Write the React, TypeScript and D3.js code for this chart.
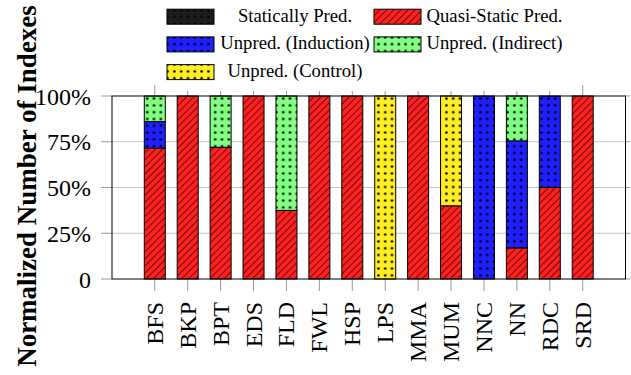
import React from "react";
import * as d3 from "d3";

const categories = ["BFS", "BKP", "BPT", "EDS", "FLD", "FWL", "HSP", "LPS", "MMA", "MUM", "NNC", "NN", "RDC", "SRD"];
const seriesNames = ["Statically Pred.", "Quasi-Static Pred.", "Unpred. (Induction)", "Unpred. (Indirect)", "Unpred. (Control)"];
const staticallyPred = [0, 0, 0, 0, 0, 0, 0, 0, 0, 0, 0, 0, 0, 0];
const quasiStatic = [71.5, 100, 72, 100, 37.5, 100, 100, 0, 100, 40, 0, 17, 50, 100];
const induction = [14.5, 0, 0, 0, 0, 0, 0, 0, 0, 0, 100, 58.5, 50, 0];
const indirect = [14, 0, 28, 0, 62.5, 0, 0, 0, 0, 0, 0, 24.5, 0, 0];
const control = [0, 0, 0, 0, 0, 0, 0, 100, 0, 60, 0, 0, 0, 0];
const yTicks = [0, 25, 50, 75, 100];
const yTickLabels = ["0", "25%", "50%", "75%", "100%"];

const fills = ["url(#pBlack)", "url(#pRed)", "url(#pBlue)", "url(#pGreen)", "url(#pYellow)"];

export default function App() {
  const W = 631, H = 375;
  const x0 = 112, x1 = 625.5, y0 = 96, y1 = 279;
  const x = d3.scaleLinear().domain([-1.3, categories.length - 1 + 1.3]).range([x0, x1]);
  const y = d3.scaleLinear().domain([0, 100]).range([y1, y0]);
  const bw = 21;

  const rows = categories.map((c, i) => ({
    cat: c,
    v0: staticallyPred[i], v1: quasiStatic[i], v2: induction[i], v3: indirect[i], v4: control[i],
  }));
  const stack = d3.stack<any>().keys(["v0", "v1", "v2", "v3", "v4"])(rows);

  const font = "'Liberation Serif', 'Times New Roman', serif";

  const legendItems = [
    { name: seriesNames[0], fill: fills[0], sx: 167, tx: 295, row: 0 },
    { name: seriesNames[1], fill: fills[1], sx: 374, tx: 494.5, row: 0 },
    { name: seriesNames[2], fill: fills[2], sx: 167, tx: 295, row: 1 },
    { name: seriesNames[3], fill: fills[3], sx: 374, tx: 494.5, row: 1 },
    { name: seriesNames[4], fill: fills[4], sx: 167, tx: 295, row: 2 },
  ];

  const P = 6.8;
  const dotPattern = (id: string, color: string) => (
    <pattern id={id} patternUnits="userSpaceOnUse" width={P} height={P} x={1} y={0}>
      <rect width={P} height={P} fill={color} />
      <circle cx={P / 2} cy={P / 2} r={1.3} fill="#000" />
    </pattern>
  );

  return (
    <svg width={W} height={H} style={{ position: "absolute", left: 0, top: 0, background: "#fff" }}>
      <defs>
        {dotPattern("pBlack", "#1c1c1c")}
        {dotPattern("pBlue", "#1f1fff")}
        {dotPattern("pGreen", "#80ff80")}
        {dotPattern("pYellow", "#ffee22")}
        <pattern id="pRed" patternUnits="userSpaceOnUse" width={5} height={5} patternTransform="rotate(45)">
          <rect width={5} height={5} fill="#ff2020" />
          <line x1={0} y1={0} x2={0} y2={5} stroke="#000" strokeWidth={1.2} />
        </pattern>
      </defs>

      {/* grid */}
      {yTicks.slice(1, -1).map((t) => (
        <line key={"g" + t} x1={x0} x2={x1} y1={y(t)} y2={y(t)} stroke="#c4c4c4" strokeWidth={1} />
      ))}
      {/* y ticks outside */}
      {yTicks.map((t) => (
        <g key={"yt" + t}>
          <line x1={101} x2={x0} y1={y(t)} y2={y(t)} stroke="#999" strokeWidth={1} />
          <line x1={x1} x2={630} y1={y(t)} y2={y(t)} stroke="#999" strokeWidth={1} />
        </g>
      ))}
      {/* x ticks */}
      {categories.map((c, i) => (
        <g key={"xt" + c}>
          <line x1={x(i)} x2={x(i)} y1={y1} y2={291} stroke="#999" strokeWidth={1} />
          <line x1={x(i)} x2={x(i)} y1={85} y2={y0} stroke="#999" strokeWidth={1} />
        </g>
      ))}

      {/* bars */}
      {stack.map((s, si) => (
        <g key={"s" + si}>
          {s.map((d, i) =>
            d[1] - d[0] > 0 ? (
              <rect
                key={i}
                x={x(i) - bw / 2}
                y={y(d[1])}
                width={bw}
                height={y(d[0]) - y(d[1])}
                fill={fills[si]}
                stroke="#000"
                strokeWidth={1}
              />
            ) : null
          )}
        </g>
      ))}

      {/* frame */}
      <rect x={x0} y={y0} width={x1 - x0} height={y1 - y0} fill="none" stroke="#000" strokeWidth={1} />

      {/* y tick labels */}
      {yTicks.map((t, i) => (
        <text key={"yl" + t} x={91} y={y(t) + 8.5} textAnchor="end" fontFamily={font} fontSize={24} fill="#000">
          {yTickLabels[i]}
        </text>
      ))}

      {/* x tick labels */}
      {categories.map((c, i) => (
        <text
          key={"xl" + c}
          transform={`translate(${x(i) + 8},302) rotate(-90)`}
          textAnchor="end"
          fontFamily={font}
          fontSize={24}
          fill="#000"
        >
          {c}
        </text>
      ))}

      {/* y title */}
      <text
        transform={`translate(36,186) rotate(-90)`}
        textAnchor="middle"
        fontFamily={font}
        fontWeight="bold"
        fontSize={27}
        fill="#000"
      >
        Normalized Number of Indexes
      </text>

      {/* legend */}
      <rect x={159} y={0} width={416} height={91} fill="#fff" />
      {legendItems.map((it) => {
        const cy = 16.7 + it.row * 27.7;
        return (
          <g key={it.name}>
            <rect x={it.sx} y={cy - 7.5} width={47} height={15} fill={it.fill} stroke="#000" strokeWidth={1} />
            <text x={it.tx} y={cy + 5} textAnchor="middle" fontFamily={font} fontSize={18.7} fill="#000">
              {it.name}
            </text>
          </g>
        );
      })}
    </svg>
  );
}
